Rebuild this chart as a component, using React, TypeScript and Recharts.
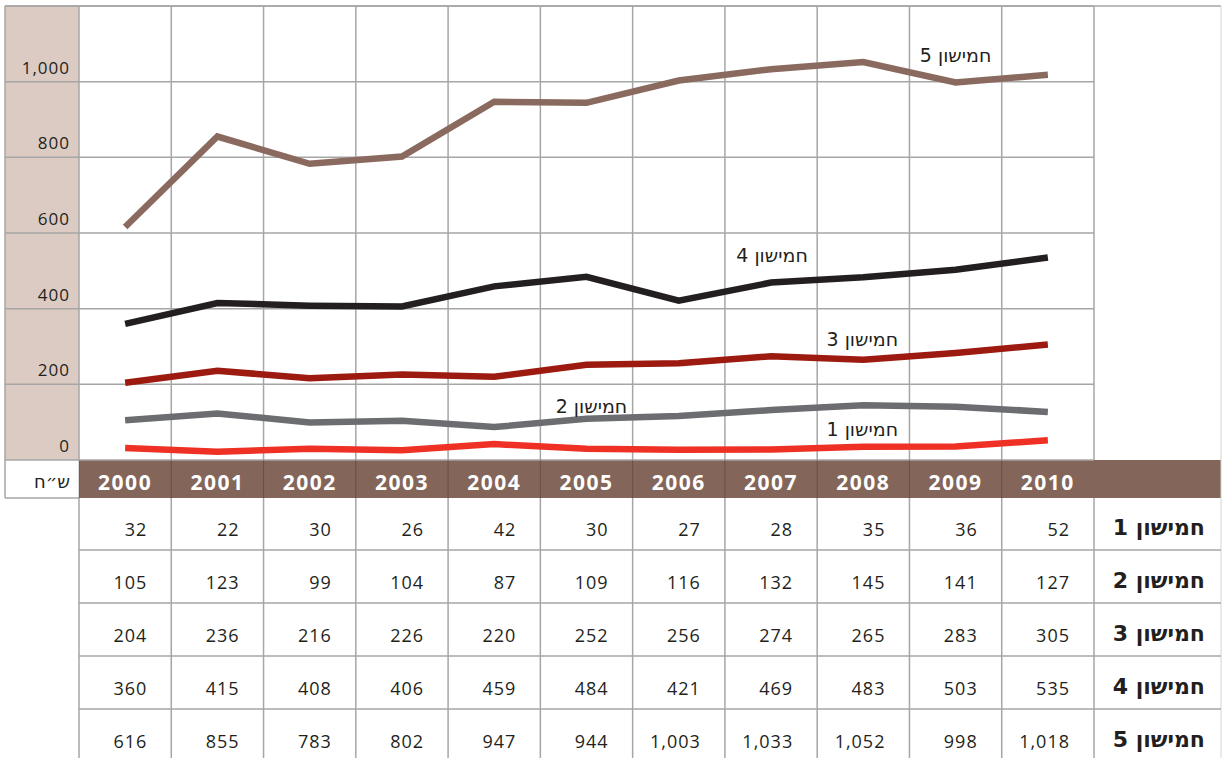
import React from 'react';
import { LineChart, Line, XAxis, YAxis, CartesianGrid } from 'recharts';

const years = ['2000', '2001', '2002', '2003', '2004', '2005', '2006', '2007', '2008', '2009', '2010'];
const quintile1 = [32, 22, 30, 26, 42, 30, 27, 28, 35, 36, 52];
const quintile2 = [105, 123, 99, 104, 87, 109, 116, 132, 145, 141, 127];
const quintile3 = [204, 236, 216, 226, 220, 252, 256, 274, 265, 283, 305];
const quintile4 = [360, 415, 408, 406, 459, 484, 421, 469, 483, 503, 535];
const quintile5 = [616, 855, 783, 802, 947, 944, 1003, 1033, 1052, 998, 1018];
const seriesNames = ['חמישון 1', 'חמישון 2', 'חמישון 3', 'חמישון 4', 'חמישון 5'];
const yTicks = [0, 200, 400, 600, 800, 1000, 1200];
const unitLabel = 'ש״ח';

const allSeries = [quintile1, quintile2, quintile3, quintile4, quintile5];
const data = years.map((year, i) => ({
  year,
  q1: quintile1[i],
  q2: quintile2[i],
  q3: quintile3[i],
  q4: quintile4[i],
  q5: quintile5[i],
}));

// layout
const W = 1222;
const H = 758;
const FRAME_L = 5;
const FRAME_R = 1221;
const PLOT_L = 79;
const PLOT_R = 1094;
const PLOT_T = 6;
const PLOT_B = 460;
const BAND_B = 498;
const ROW_H = 53;
const COL_W = (PLOT_R - PLOT_L) / years.length;

const GRID = '#a6a6a6';
const INK = '#231f20';
const FONT = "'Open Sans', 'DejaVu Sans', sans-serif";
const HEB_FONT = "'DejaVu Sans', sans-serif";

const fmt = (v: number) => v.toLocaleString('en-US');

const YTick = (props: any) => {
  const { y, payload } = props;
  return (
    <g>
      <line x1={FRAME_L} x2={PLOT_L} y1={y} y2={y} stroke={GRID} strokeWidth={1.5} />
      {payload.value < 1200 && (
        <text x={70} y={y - 8} textAnchor="end" fontSize={17} letterSpacing={1} fill={INK} fontFamily={FONT}>
          {fmt(payload.value)}
        </text>
      )}
    </g>
  );
};

const TableTick = (props: any) => {
  const { x, payload, index } = props;
  const left = x - COL_W / 2;
  const right = x + COL_W / 2;
  const i = years.indexOf(payload.value);
  return (
    <g>
      <line x1={left} x2={left} y1={PLOT_B} y2={BAND_B} stroke="rgba(60,40,30,0.35)" />
      <line x1={left} x2={left} y1={BAND_B} y2={H} stroke={GRID} strokeWidth={1.5} />
      {index === years.length - 1 && (
        <line x1={right} x2={right} y1={BAND_B} y2={H} stroke={GRID} strokeWidth={1.5} />
      )}
      <text x={x} y={490} textAnchor="middle" fontSize={21} fontWeight="bold" letterSpacing={1.5} fill="#fff" fontFamily={FONT}>
        {payload.value}
      </text>
      {allSeries.map((s, r) => (
        <text key={r} x={right - 24} y={BAND_B + r * ROW_H + 38} textAnchor="end" fontSize={18} letterSpacing={1} fill={INK} fontFamily={FONT}>
          {fmt(s[i])}
        </text>
      ))}
    </g>
  );
};

const lineLabel = (name: string, at: number, dx: number, dy: number) => (p: any) =>
  p.index === at ? (
    <text key={name} x={p.x + dx} y={p.y + dy} textAnchor="middle" fontSize={19} fill={INK} fontFamily={HEB_FONT}>
      {name}
    </text>
  ) : (
    <g key={`${name}-${p.index}`} />
  );

const App: React.FC = () => (
  <div style={{ position: 'absolute', left: 0, top: 0, width: W, height: H, background: '#fff' }}>
    <svg width={W} height={H} style={{ position: 'absolute', left: 0, top: 0 }}>
      <rect x={FRAME_L} y={PLOT_T} width={PLOT_L - FRAME_L} height={PLOT_B - PLOT_T} fill="#dccbc2" />
      <rect x={PLOT_L} y={PLOT_B} width={FRAME_R - PLOT_L} height={BAND_B - PLOT_B} fill="#84655a" />
      <line x1={FRAME_L} x2={FRAME_R} y1={PLOT_T} y2={PLOT_T} stroke={GRID} strokeWidth={1.5} />
      <line x1={FRAME_L} x2={FRAME_L} y1={PLOT_T} y2={BAND_B} stroke={GRID} strokeWidth={1.5} />
      <line x1={FRAME_L} x2={PLOT_L} y1={BAND_B} y2={BAND_B} stroke={GRID} strokeWidth={1.5} />
      <line x1={FRAME_R} x2={FRAME_R} y1={PLOT_T} y2={H} stroke="#d4d4d4" />
      {[1, 2, 3, 4].map((r) => (
        <line key={r} x1={PLOT_L} x2={FRAME_R} y1={BAND_B + r * ROW_H - 1} y2={BAND_B + r * ROW_H - 1} stroke={GRID} strokeWidth={1.5} />
      ))}
      <text x={70} y={488} textAnchor="end" fontSize={18} fill={INK} fontFamily={HEB_FONT}>
        {unitLabel}
      </text>
      {seriesNames.map((n, r) => (
        <text key={n} x={1205} y={BAND_B + r * ROW_H + 37} textAnchor="end" fontSize={22} fontWeight="bold" fill={INK} fontFamily={HEB_FONT}>
          {n}
        </text>
      ))}
    </svg>
    <div style={{ position: 'absolute', left: 0, top: 0 }}>
      <LineChart width={W} height={H} data={data} margin={{ top: PLOT_T, right: W - PLOT_R, left: FRAME_L, bottom: 0 }}>
        <CartesianGrid
          stroke={GRID}
          strokeWidth={1.5}
          verticalCoordinatesGenerator={({ offset }: any) =>
            years.map((_, i) => offset.left + (i * offset.width) / years.length).concat(offset.left + offset.width)
          }
        />
        <XAxis dataKey="year" scale="band" height={H - PLOT_B} axisLine={false} tickLine={false} interval={0} tick={<TableTick />} />
        <YAxis domain={[0, 1200]} ticks={yTicks} interval={0} width={PLOT_L - FRAME_L} axisLine={false} tickLine={false} tick={<YTick />} />
        <Line type="linear" dataKey="q1" stroke="#ee3124" strokeWidth={6.5} dot={false} strokeLinejoin="miter" isAnimationActive={false} label={lineLabel(seriesNames[0], 8, -1, -11)} />
        <Line type="linear" dataKey="q2" stroke="#6c6d70" strokeWidth={6.5} dot={false} strokeLinejoin="miter" isAnimationActive={false} label={lineLabel(seriesNames[1], 5, 5, -6)} />
        <Line type="linear" dataKey="q3" stroke="#9d1a10" strokeWidth={6.5} dot={false} strokeLinejoin="miter" isAnimationActive={false} label={lineLabel(seriesNames[2], 8, -1, -14)} />
        <Line type="linear" dataKey="q4" stroke={INK} strokeWidth={6.5} dot={false} strokeLinejoin="miter" isAnimationActive={false} label={lineLabel(seriesNames[3], 7, 1, -21)} />
        <Line type="linear" dataKey="q5" stroke="#8a6a5f" strokeWidth={6.5} dot={false} strokeLinejoin="miter" isAnimationActive={false} label={lineLabel(seriesNames[4], 9, 0, -20)} />
      </LineChart>
    </div>
  </div>
);

export default App;
